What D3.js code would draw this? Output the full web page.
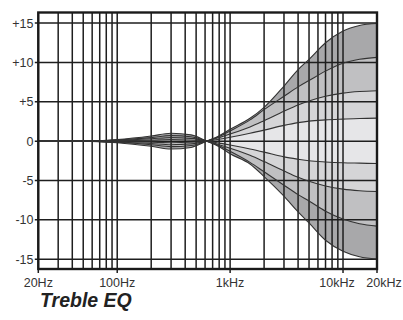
<!DOCTYPE html>
<html>
<head>
<meta charset="utf-8">
<script src="https://cdn.jsdelivr.net/npm/d3@7"></script>
<style>
body { margin: 0; background: #fff; }
svg { display: block; font-family: "Liberation Sans", Arial, sans-serif; }
</style>
</head>
<body>
<svg id="chart" width="403" height="320"></svg>
<script>
// frequency points the curves were read at (Hz)
var freqs = [20, 50, 100, 200, 300, 450, 620, 800, 1000, 1500, 2000, 3000, 4000, 5000, 7000, 10000, 14000, 20000];

// boost curves (dB)
var boost15 = [0, 0, -0.2, -0.65, -1.0, -0.8, 0, 0.7, 1.5, 2.9, 4.3, 7.0, 9.1, 10.4, 12.5, 14.0, 14.7, 14.95];
var boost10 = [0, 0, -0.15, -0.45, -0.7, -0.55, 0, 0.6, 1.3, 2.7, 4.0, 5.7, 6.9, 7.7, 8.9, 9.9, 10.4, 10.65];
var boost6  = [0, 0, -0.1, -0.3, -0.45, -0.35, 0, 0.45, 0.9, 1.8, 2.6, 3.8, 4.6, 5.1, 5.7, 6.1, 6.3, 6.4];
var boost3  = [0, 0, -0.05, -0.13, -0.2, -0.15, 0, 0.25, 0.5, 1.0, 1.4, 2.0, 2.35, 2.55, 2.7, 2.8, 2.88, 2.92];

// cut curves (dB)
var cut15 = [0, 0, 0.2, 0.65, 1.0, 0.8, 0, -0.7, -1.6, -2.9, -4.5, -7.0, -9.0, -10.4, -12.6, -14.0, -14.7, -15.0];
var cut10 = [0, 0, 0.15, 0.45, 0.7, 0.55, 0, -0.6, -1.3, -2.7, -3.9, -5.6, -6.8, -7.6, -8.9, -9.9, -10.5, -10.8];
var cut6  = [0, 0, 0.1, 0.3, 0.45, 0.35, 0, -0.45, -0.9, -1.8, -2.6, -3.8, -4.6, -5.1, -5.7, -6.1, -6.3, -6.4];
var cut3  = [0, 0, 0.05, 0.13, 0.2, 0.15, 0, -0.25, -0.5, -1.0, -1.4, -2.0, -2.3, -2.5, -2.65, -2.75, -2.8, -2.85];

var xTickVals = [20, 100, 1000, 10000, 20000];
var xTickLabels = ["20Hz", "100Hz", "1kHz", "10kHz", "20kHz"];
var xLabelShift = [0, 0, 0, -6, 7];
var yTickVals = [15, 10, 5, 0, -5, -10, -15];
var yTickLabels = ["+15", "+10", "+5", "0", "-5", "-10", "-15"];

var fillColors = ["#a8a8aa", "#c0c0c2", "#d5d5d7", "#e6e6e8"];
var levels = [[boost15, cut15], [boost10, cut10], [boost6, cut6], [boost3, cut3]];

var pLeft = 38.3, pRight = 377, pTop = 12.5, pBottom = 269;

var x = d3.scaleLog().domain([20, 20000]).range([pLeft, pRight]);
var y = d3.scaleLinear().domain([-16.25, 16.35]).range([pBottom, pTop]);

var svg = d3.select("#chart");
svg.append("rect").attr("width", 403).attr("height", 320).attr("fill", "#fff");

var area = d3.area()
  .x(function(d, i) { return x(freqs[i]); })
  .y0(y(0))
  .y1(function(d) { return y(d); })
  .curve(d3.curveMonotoneX);

var line = d3.line()
  .x(function(d, i) { return x(freqs[i]); })
  .y(function(d) { return y(d); })
  .curve(d3.curveMonotoneX);

// shaded bands, darkest (widest) first
levels.forEach(function(pair, k) {
  pair.forEach(function(vals) {
    svg.append("path").attr("d", area(vals)).attr("fill", fillColors[k]);
  });
});

// grid
svg.append("g").selectAll("line")
  .data(x.ticks())
  .enter().append("line")
  .attr("x1", function(d) { return x(d); })
  .attr("x2", function(d) { return x(d); })
  .attr("y1", pTop).attr("y2", pBottom)
  .attr("stroke", "#1e1e1e").attr("stroke-width", 1.5);

svg.append("g").selectAll("line")
  .data(yTickVals)
  .enter().append("line")
  .attr("x1", pLeft - 3.5).attr("x2", pRight)
  .attr("y1", function(d) { return y(d); })
  .attr("y2", function(d) { return y(d); })
  .attr("stroke", "#1e1e1e").attr("stroke-width", 1.5);

// curves
levels.forEach(function(pair) {
  pair.forEach(function(vals) {
    svg.append("path").attr("d", line(vals))
      .attr("fill", "none").attr("stroke", "#333").attr("stroke-width", 1.1);
  });
});

// frame
svg.append("rect")
  .attr("x", pLeft).attr("y", pTop)
  .attr("width", pRight - pLeft).attr("height", pBottom - pTop)
  .attr("fill", "none").attr("stroke", "#1a1a1a").attr("stroke-width", 2.4);

// x ticks and labels
svg.append("g").selectAll("line")
  .data(xTickVals)
  .enter().append("line")
  .attr("x1", function(d) { return x(d); })
  .attr("x2", function(d) { return x(d); })
  .attr("y1", pBottom).attr("y2", pBottom + 4)
  .attr("stroke", "#1e1e1e").attr("stroke-width", 1.5);

svg.append("g").selectAll("text")
  .data(xTickVals)
  .enter().append("text")
  .attr("x", function(d, i) { return x(d) + xLabelShift[i]; })
  .attr("y", 287)
  .attr("text-anchor", "middle")
  .attr("font-size", 12.5)
  .attr("fill", "#333")
  .text(function(d, i) { return xTickLabels[i]; });

// y labels
svg.append("g").selectAll("text")
  .data(yTickVals)
  .enter().append("text")
  .attr("x", 33.5)
  .attr("y", function(d) { return y(d) + 4.5; })
  .attr("text-anchor", "end")
  .attr("font-size", 12.5)
  .attr("fill", "#333")
  .text(function(d, i) { return yTickLabels[i]; });

// title
svg.append("text")
  .attr("x", 40).attr("y", 307)
  .attr("font-size", 19.5)
  .attr("font-weight", "bold")
  .attr("font-style", "italic")
  .attr("fill", "#222")
  .text("Treble EQ");
</script>
</body>
</html>
